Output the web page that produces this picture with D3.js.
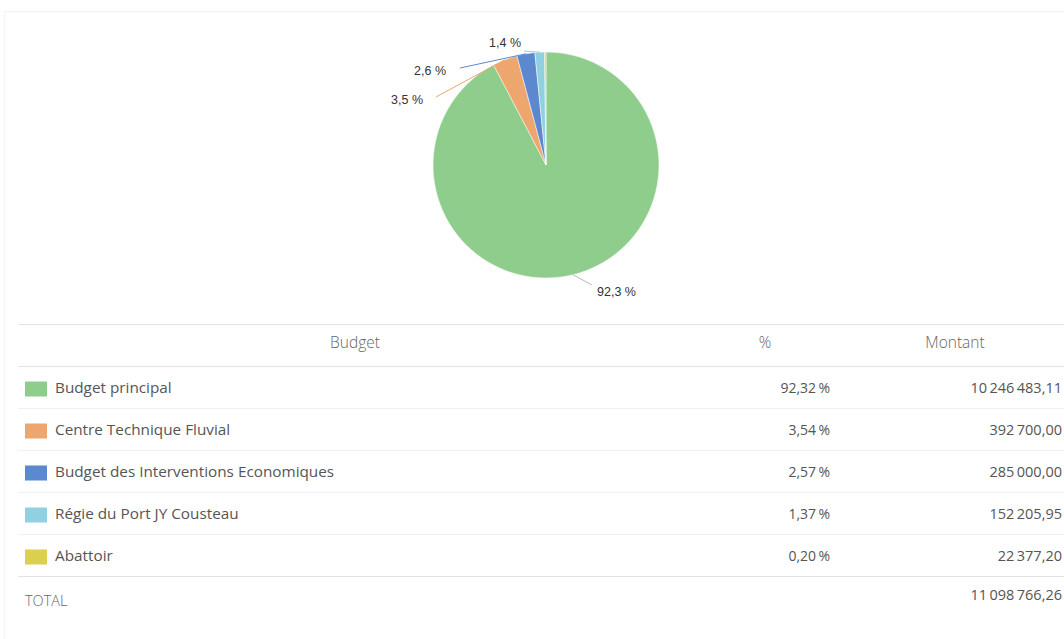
<!DOCTYPE html>
<html>
<head>
<meta charset="utf-8">
<script src="https://cdn.jsdelivr.net/npm/d3@7"></script>
<style>
  html, body { margin: 0; padding: 0; background: #ffffff; }
  svg { display: block; }
</style>
</head>
<body>
<svg id="chart" width="1064" height="639"></svg>
<script>
// Budget breakdown
const categories = [
  "Budget principal",
  "Centre Technique Fluvial",
  "Budget des Interventions Economiques",
  "Régie du Port JY Cousteau",
  "Abattoir"
];
const amounts = [10246483.11, 392700.00, 285000.00, 152205.95, 22377.20];
const percents = [92.32, 3.54, 2.57, 1.37, 0.20];
const pieLabels = ["92,3 %", "3,5 %", "2,6 %", "1,4 %", ""];
const colors = ["#8ecd8b", "#eca66e", "#5b88cf", "#8fd0e1", "#dccf50"];
const headers = ["Budget", "%", "Montant"];
const totalLabel = "TOTAL";
const totalAmount = 11098766.26;

const svg = d3.select("#chart");

// French number formatting: space thousands separator, comma decimal
const frLocale = d3.formatLocale({ decimal: ",", thousands: "\u2009", grouping: [3], currency: ["", " €"] });
const fmtAmount = frLocale.format(",.2f");
const fmtPct = frLocale.format(".2f");

// faint frame
svg.append("line").attr("x1", 4).attr("x2", 1064).attr("y1", 11.5).attr("y2", 11.5)
  .attr("stroke", "#f1f1f1");
svg.append("line").attr("x1", 4.5).attr("x2", 4.5).attr("y1", 11).attr("y2", 639)
  .attr("stroke", "#f4f4f4");

// ---- Pie ----
const cx = 546, cy = 165, r = 113;
const data = categories.map((c, i) => ({ name: c, value: percents[i], label: pieLabels[i], color: colors[i] }));
const pie = d3.pie().value(d => d.value).sort(null);
const arcs = pie(data);
const arc = d3.arc().innerRadius(0).outerRadius(r);

const g = svg.append("g").attr("transform", `translate(${cx},${cy})`);
g.selectAll("path.slice").data(arcs).join("path")
  .attr("class", "slice")
  .attr("d", arc)
  .attr("fill", d => d.data.color)
  .attr("stroke", "#ffffff")
  .attr("stroke-width", 0.5);

// Label placements: leader elbow and text anchor per slice
const labelPos = [
  { elbow: [46, 120], text: [51, 128], anchor: "start" },
  { elbow: [-110, -68], text: [-123, -64], anchor: "end" },
  { elbow: [-86, -97], text: [-100, -93], anchor: "end" },
  { elbow: [-22, -114], text: [-25, -121], anchor: "end" },
  null
];

arcs.forEach((a, i) => {
  const lp = labelPos[i];
  if (!lp || !a.data.label) return;
  const mid = (a.startAngle + a.endAngle) / 2;
  const p0 = [Math.sin(mid) * r, -Math.cos(mid) * r];
  g.append("polyline")
    .attr("points", [p0, lp.elbow].map(p => p.join(",")).join(" "))
    .attr("fill", "none")
    .attr("stroke", i === 0 ? "#b9b9b9" : a.data.color)
    .attr("stroke-width", 1);
  g.append("text")
    .attr("x", lp.text[0]).attr("y", lp.text[1])
    .attr("text-anchor", lp.anchor)
    .attr("dominant-baseline", "middle")
    .attr("font-family", "Liberation Sans, Arial, sans-serif")
    .attr("font-size", 12.5)
    .attr("fill", "#333")
    .text(a.data.label);
});

// ---- Table ----
const tableLeft = 18, tableRight = 1064;
const colPctRight = 830, colAmtRight = 1062;
const headerTop = 324, headerBottom = 366, rowH = 42;
const font = "'Open Sans', 'Noto Sans', sans-serif";

const hline = y => svg.append("line")
  .attr("x1", tableLeft).attr("x2", tableRight)
  .attr("y1", y + 0.5).attr("y2", y + 0.5)
  .attr("stroke", "#e3e3e3").attr("stroke-width", 1);

hline(headerTop);
hline(headerBottom);

const headerY = (headerTop + headerBottom) / 2 - 1;
[[355, headers[0]], [765, headers[1]], [955, headers[2]]].forEach(([x, t]) => {
  svg.append("text").attr("x", x).attr("y", headerY)
    .attr("text-anchor", "middle").attr("dominant-baseline", "middle")
    .attr("font-family", font).attr("font-size", 15.5).attr("font-weight", 300)
    .attr("fill", "#666").text(t);
});

const rowY = d3.scaleBand().domain(d3.range(categories.length + 1))
  .range([headerBottom, headerBottom + rowH * (categories.length + 1)]);

categories.forEach((c, i) => {
  const y0 = rowY(i);
  const ym = y0 + rowY.bandwidth() / 2 + 2;
  if (i > 0) svg.append("line").attr("x1", tableLeft).attr("x2", tableRight)
    .attr("y1", y0 + 0.5).attr("y2", y0 + 0.5).attr("stroke", "#f1f1f1");
  svg.append("rect").attr("x", 25).attr("y", ym - 7.5).attr("width", 22).attr("height", 15)
    .attr("fill", colors[i]);
  svg.append("text").attr("x", 55).attr("y", ym)
    .attr("dominant-baseline", "middle")
    .attr("font-family", font).attr("font-size", 15.3)
    .attr("fill", "#555").text(c);
  svg.append("text").attr("x", colPctRight).attr("y", ym)
    .attr("text-anchor", "end").attr("dominant-baseline", "middle")
    .attr("font-family", font).attr("font-size", 14)
    .attr("fill", "#555").text(fmtPct(percents[i]) + "\u2009%");
  svg.append("text").attr("x", colAmtRight).attr("y", ym)
    .attr("text-anchor", "end").attr("dominant-baseline", "middle")
    .attr("font-family", font).attr("font-size", 14.5)
    .attr("fill", "#555").text(fmtAmount(amounts[i]));
});

const totY = rowY(categories.length);
hline(totY);
svg.append("text").attr("x", 25).attr("y", totY + 26)
  .attr("dominant-baseline", "middle")
  .attr("font-family", font).attr("font-size", 14.5).attr("font-weight", 300)
  .attr("fill", "#666").text(totalLabel);
svg.append("text").attr("x", colAmtRight).attr("y", totY + 20)
  .attr("text-anchor", "end").attr("dominant-baseline", "middle")
  .attr("font-family", font).attr("font-size", 14.5)
  .attr("fill", "#555").text(fmtAmount(totalAmount));
</script>
</body>
</html>
